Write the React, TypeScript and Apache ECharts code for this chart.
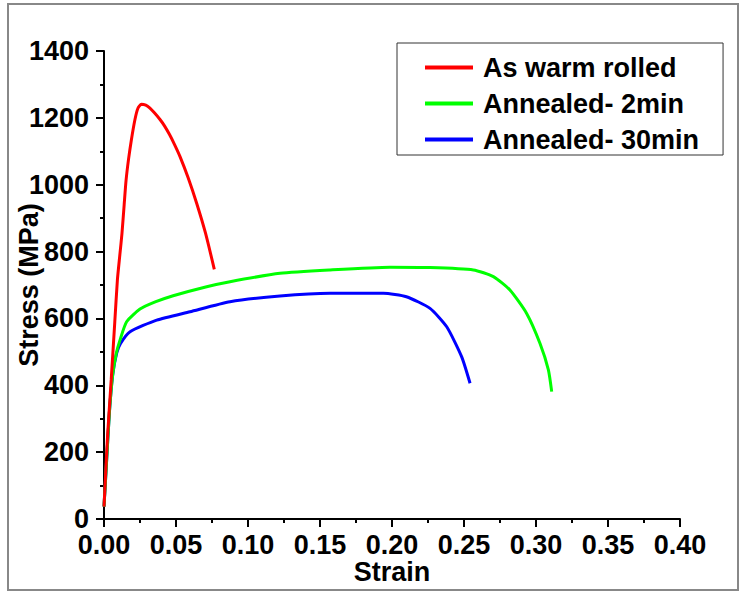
import React, { useEffect, useRef } from "react";
import * as echarts from "echarts";

// Tensile curves: [strain, stress (MPa)]
const warmRolled: [number, number][] = [
  [0, 37], [0.0025, 250], [0.005, 416], [0.0075, 590], [0.0093, 715], [0.011, 790],
  [0.0125, 855], [0.014, 940], [0.0153, 1012], [0.017, 1075], [0.019, 1134], [0.0215, 1195],
  [0.0235, 1228], [0.026, 1241], [0.029, 1238], [0.0319, 1229], [0.035, 1215], [0.0389, 1195],
  [0.042, 1176], [0.0455, 1150], [0.049, 1120], [0.0528, 1084], [0.0585, 1020],
  [0.0644, 944], [0.0705, 855], [0.0766, 747],
];

const annealed2: [number, number][] = [
  [0, 37], [0.0015, 150], [0.0037, 316], [0.006, 430], [0.0085, 495], [0.0111, 535],
  [0.0157, 590], [0.025, 628], [0.036, 650], [0.048, 668], [0.0713, 695], [0.0875, 710],
  [0.1222, 735], [0.157, 745], [0.1986, 753], [0.2264, 752], [0.2565, 745], [0.2704, 725],
  [0.2819, 685], [0.2935, 615], [0.3028, 525], [0.3086, 446], [0.3109, 381],
];

const annealed30: [number, number][] = [
  [0, 37], [0.0015, 150], [0.0037, 316], [0.006, 430], [0.0088, 496], [0.0115, 525],
  [0.0181, 560], [0.0366, 595], [0.0597, 620], [0.0875, 650], [0.1222, 667],
  [0.157, 675], [0.194, 675], [0.21, 665], [0.2264, 630], [0.238, 575],
  [0.2484, 485], [0.2542, 406],
];

const seriesNames = ["As warm rolled", "Annealed- 2min", "Annealed- 30min"];
const seriesColors = ["#ff0000", "#00ff00", "#0000ff"];

const FONT = "'Liberation Sans', Arial, sans-serif";

export default function App() {
  const ref = useRef<HTMLDivElement>(null);

  useEffect(() => {
    if (!ref.current) return;
    const chart = echarts.init(ref.current, undefined, { renderer: "svg" });
    const datasets = [warmRolled, annealed2, annealed30];

    const axisCommon = {
      axisLine: { show: true, onZero: false, lineStyle: { color: "#000", width: 2 } },
      axisTick: { show: true, inside: false, length: 8, lineStyle: { color: "#000", width: 2 } },
      minorTick: { show: true, splitNumber: 2, length: 4, lineStyle: { color: "#000", width: 2 } },
      splitLine: { show: false },
      nameLocation: "middle" as const,
      nameMoveOverlap: false,
      nameTextStyle: { fontSize: 27, fontWeight: "bold" as const, color: "#000", fontFamily: FONT },
    };

    chart.setOption({
      animation: false,
      backgroundColor: "#fff",
      grid: { left: 104, right: 61, top: 51, bottom: 73, containLabel: false, outerBoundsMode: "none" },
      xAxis: {
        type: "value",
        min: 0,
        max: 0.4,
        interval: 0.05,
        name: "Strain",
        nameGap: 39,
        ...axisCommon,
        axisLabel: {
          margin: 12,
          fontSize: 27,
          fontWeight: "bold",
          color: "#000",
          fontFamily: FONT,
          formatter: (v: number) => v.toFixed(2),
        },
      },
      yAxis: {
        type: "value",
        min: 0,
        max: 1400,
        interval: 200,
        name: "Stress (MPa)",
        nameGap: 62,
        ...axisCommon,
        axisLabel: {
          margin: 15,
          fontSize: 27,
          fontWeight: "bold",
          color: "#000",
          fontFamily: FONT,
          formatter: (v: number) => String(v),
        },
      },
      legend: {
        orient: "vertical",
        left: 397,
        top: 43,
        icon: "rect",
        itemWidth: 48,
        itemHeight: 4,
        itemGap: 9,
        padding: [11, 24, 2, 28],
        borderColor: "#333",
        borderWidth: 1,
        textStyle: { fontSize: 27, fontWeight: "bold", color: "#000", fontFamily: FONT, padding: [0, 0, 0, 5] },
        data: seriesNames,
      },
      graphic: [
        {
          type: "rect",
          shape: { x: 8, y: 4, width: 730, height: 586 },
          style: { fill: "none", stroke: "#888", lineWidth: 2 },
          silent: true,
        },
      ],
      series: datasets.map((d, i) => ({
        name: seriesNames[i],
        type: "line",
        data: d,
        smooth: 0.2,
        symbol: "none",
        lineStyle: { color: seriesColors[i], width: 3 },
        itemStyle: { color: seriesColors[i] },
        z: 3 - i,
      })),
    });

    return () => chart.dispose();
  }, []);

  return (
    <div
      ref={ref}
      style={{ position: "absolute", left: 0, top: 0, width: 741, height: 592 }}
    />
  );
}
